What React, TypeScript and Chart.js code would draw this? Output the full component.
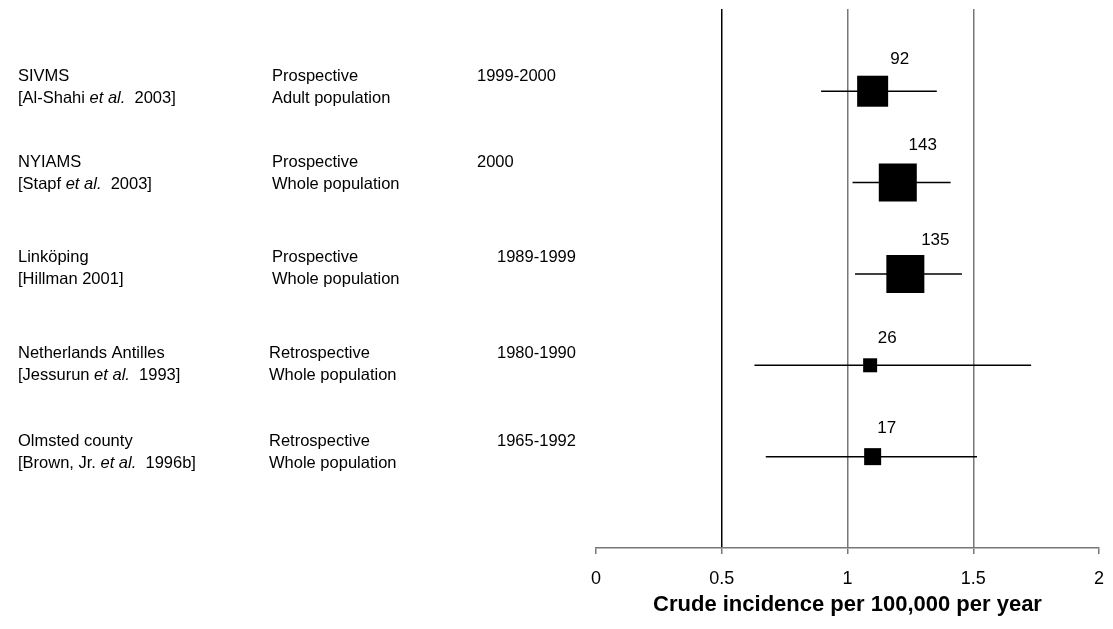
import React, { useEffect, useRef } from "react";
import { Chart, registerables } from "chart.js";

Chart.register(...registerables);

// ---- data ----
const studies = ["SIVMS", "NYIAMS", "Linköping", "Netherlands Antilles", "Olmsted county"];
const citeAuthors = ["Al-Shahi", "Stapf", "Hillman", "Jessurun", "Brown, Jr."];
const citeEtAl = [true, true, false, true, true];
const citeYears = ["2003", "2003", "2001", "1993", "1996b"];
const designs = ["Prospective", "Prospective", "Prospective", "Retrospective", "Retrospective"];
const populations = ["Adult population", "Whole population", "Whole population", "Whole population", "Whole population"];
const periods = ["1999-2000", "2000", "1989-1999", "1980-1990", "1965-1992"];
const incidence = [1.1, 1.2, 1.23, 1.09, 1.1];
const ciLow = [0.895, 1.02, 1.03, 0.63, 0.675];
const ciHigh = [1.355, 1.41, 1.455, 1.73, 1.515];
const cases = [92, 143, 135, 26, 17];
const xTicks = [0, 0.5, 1, 1.5, 2];
const xTitle = "Crude incidence per 100,000 per year";

// ---- layout / style ----
const markerSide = [31, 38, 38, 14, 17];
const labelDx = [27, 25, 30, 17, 14];
const labelDy = [-32, -37, -34, -27, -28];
const textLine1Dy = [-15, -20, -16, -12, -15];
const lineGap = 22;
const colNameX = 18;
const colDesignX = [272, 272, 272, 269, 269];
const colPeriodX = [477, 477, 497, 497, 497];
const FONT = '"Liberation Sans", Arial, Helvetica, sans-serif';
const TEXT_SIZE = 16.5;

const textPlugin = {
  id: "forestText",
  afterDraw(chart: any) {
    const ctx = chart.ctx;
    const y = chart.scales.y;
    ctx.save();
    ctx.fillStyle = "#000";
    ctx.textBaseline = "middle";
    ctx.textAlign = "left";
    const normal = `${TEXT_SIZE}px ${FONT}`;
    const italic = `italic ${TEXT_SIZE}px ${FONT}`;
    studies.forEach((name, i) => {
      const py = y.getPixelForValue(i);
      const y1 = py + textLine1Dy[i];
      const y2 = y1 + lineGap;
      ctx.font = normal;
      ctx.fillText(name, colNameX, y1);
      let x = colNameX;
      const first = "[" + citeAuthors[i] + " ";
      if (citeEtAl[i]) {
        ctx.font = normal;
        ctx.fillText(first, x, y2);
        x += ctx.measureText(first).width;
        ctx.font = italic;
        ctx.fillText("et al.", x, y2);
        x += ctx.measureText("et al.").width;
        ctx.font = normal;
        ctx.fillText("  " + citeYears[i] + "]", x, y2);
      } else {
        ctx.font = normal;
        ctx.fillText(first + citeYears[i] + "]", x, y2);
      }
      ctx.font = normal;
      ctx.fillText(designs[i], colDesignX[i], y1);
      ctx.fillText(populations[i], colDesignX[i], y2);
      ctx.fillText(periods[i], colPeriodX[i], y1);
    });
    const meta = chart.getDatasetMeta(0);
    ctx.textAlign = "center";
    ctx.font = `17px ${FONT}`;
    meta.data.forEach((pt: any, i: number) => {
      ctx.fillText(String(cases[i]), pt.x + labelDx[i], pt.y + labelDy[i]);
    });
    ctx.restore();
  },
};

export default function App() {
  const ref = useRef<HTMLCanvasElement | null>(null);
  useEffect(() => {
    if (!ref.current) return;
    const squares = {
      label: "Incidence",
      data: incidence.map((v, i) => ({ x: v, y: i })),
      pointStyle: "rect",
      pointRadius: markerSide.map((s) => s / Math.SQRT2),
      pointHoverRadius: markerSide.map((s) => s / Math.SQRT2),
      backgroundColor: "#000",
      borderColor: "#000",
      borderWidth: 0,
      order: -1,
    };
    const whiskers = studies.map((s, i) => ({
      label: s,
      data: [
        { x: ciLow[i], y: i },
        { x: ciHigh[i], y: i },
      ],
      showLine: true,
      borderColor: "#000",
      borderWidth: 1.5,
      pointRadius: 0,
      order: 1,
    }));
    const chart = new Chart(ref.current, {
      type: "scatter",
      data: { datasets: [squares as any, ...whiskers] },
      plugins: [textPlugin],
      options: {
        animation: false,
        responsive: false,
        events: [],
        layout: { autoPadding: false, padding: { left: 596, right: 14, top: 9, bottom: 0 } },
        plugins: { legend: { display: false }, tooltip: { enabled: false } },
        scales: {
          x: {
            type: "linear",
            min: 0,
            max: 2,
            afterBuildTicks: (scale: any) => {
              scale.ticks = xTicks.map((v) => ({ value: v }));
            },
            afterFit: (scale: any) => {
              scale.height = 81;
              scale.paddingLeft = 0;
              scale.paddingRight = 0;
            },
            ticks: {
              color: "#000",
              font: { family: FONT, size: 18 },
              padding: 14,
              autoSkip: false,
              maxRotation: 0,
              callback: (v: any) => String(v),
            },
            grid: {
              color: (c: any) => {
                const v = c.tick && c.tick.value;
                if (v === 0.5) return "#000";
                if (v === 1 || v === 1.5) return "#777";
                return "rgba(0,0,0,0)";
              },
              lineWidth: 1.5,
              tickColor: "#777",
              tickLength: 6,
              drawOnChartArea: true,
            },
            border: { display: true, color: "#777", width: 1.5 },
            title: {
              display: true,
              text: xTitle,
              color: "#000",
              font: { family: FONT, size: 22, weight: "bold" },
              padding: { top: 4, bottom: 11 },
            },
          },
          y: {
            type: "linear",
            display: false,
            reverse: true,
            min: -0.9,
            max: 5,
          },
        },
      },
    });
    return () => chart.destroy();
  }, []);
  return (
    <div style={{ position: "absolute", left: 0, top: 0, width: 1113, height: 629, background: "#fff" }}>
      <canvas ref={ref} width={1113} height={629} />
    </div>
  );
}
